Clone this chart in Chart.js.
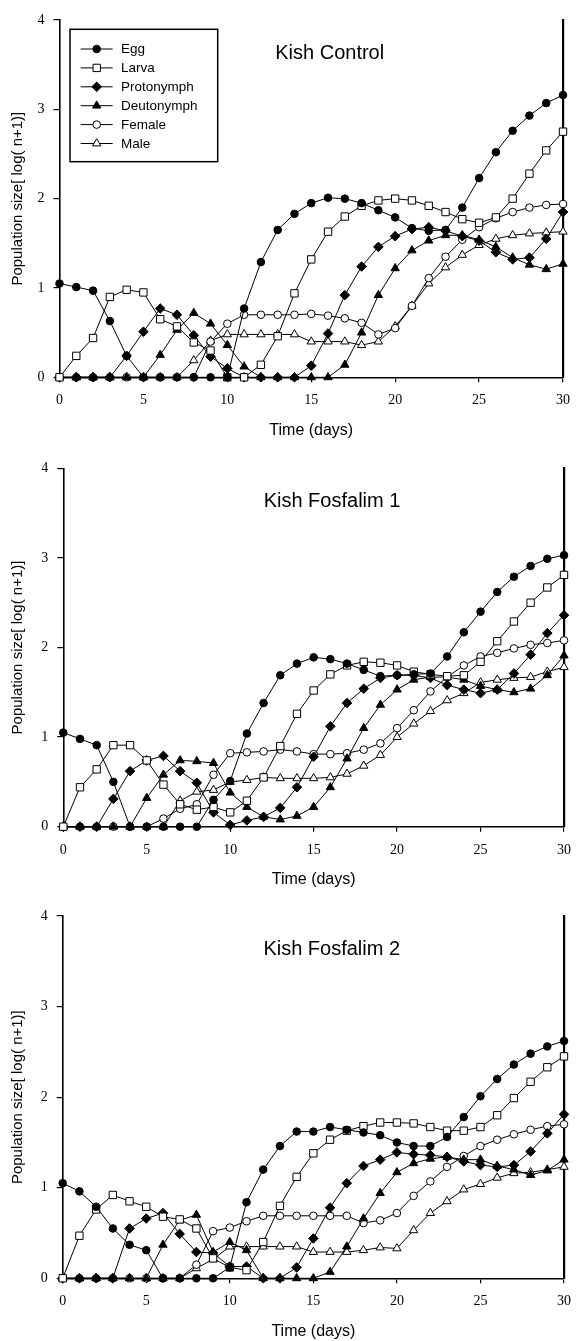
<!DOCTYPE html>
<html><head><meta charset="utf-8">
<script src="https://cdn.jsdelivr.net/npm/chart.js@4.4.1/dist/chart.umd.min.js"></script>
<style>
html,body{margin:0;padding:0;background:#fff;}
body{width:581px;height:1341px;position:relative;overflow:hidden;}
.panel{position:absolute;left:0;width:581px;}
</style></head><body>
<div class="panel" id="p1" style="top:0;height:448px"><canvas id="c1"></canvas></div>
<div class="panel" id="p2" style="top:448px;height:448px"><canvas id="c2"></canvas></div>
<div class="panel" id="p3" style="top:894px;height:447px"><canvas id="c3"></canvas></div>
<script>
// ---------------- DATA ----------------
const days = [0,1,2,3,4,5,6,7,8,9,10,11,12,13,14,15,16,17,18,19,20,21,22,23,24,25,26,27,28,29,30];
const seriesNames = ['Egg','Larva','Protonymph','Deutonymph','Female','Male'];
const panelTitles = ['Kish Control','Kish Fosfalim 1','Kish Fosfalim 2'];
const xTickValues = [0,5,10,15,20,25,30];
const yTickValues = [0,1,2,3,4];
const xAxisTitle = 'Time (days)';
const yAxisTitle = 'Population size[ log( n+1)]';

// Kish Control
const controlEgg        = [1.05,1.01,0.97,0.63,0.24,0,0,0,0,0,0,0.77,1.29,1.65,1.83,1.95,2.01,2.00,1.95,1.87,1.79,1.67,1.64,1.65,1.90,2.23,2.52,2.76,2.93,3.07,3.16];
const controlLarva      = [0,0.24,0.44,0.90,0.98,0.95,0.65,0.57,0.39,0.30,0,0,0.14,0.46,0.94,1.32,1.63,1.80,1.92,1.98,2.00,1.98,1.92,1.85,1.77,1.73,1.79,2.00,2.28,2.54,2.75];
const controlProtonymph = [0,0,0,0,0.24,0.51,0.77,0.70,0.47,0.23,0.10,0,0,0,0,0.13,0.49,0.92,1.24,1.46,1.58,1.66,1.68,1.64,1.58,1.53,1.40,1.32,1.34,1.55,1.85];
const controlDeutonymph = [0,0,0,0,0,0,0.25,0.53,0.72,0.60,0.36,0.12,0,0,0,0,0,0.14,0.50,0.92,1.22,1.42,1.53,1.59,1.59,1.54,1.46,1.34,1.26,1.21,1.27];
const controlFemale     = [0,0,0,0,0,0,0,0,0,0.40,0.60,0.70,0.70,0.70,0.70,0.71,0.69,0.66,0.61,0.48,0.55,0.80,1.11,1.35,1.54,1.68,1.78,1.85,1.90,1.93,1.94];
const controlMale       = [0,0,0,0,0,0,0,0,0.19,0.41,0.48,0.48,0.48,0.48,0.48,0.40,0.40,0.40,0.36,0.40,0.57,0.80,1.05,1.23,1.37,1.48,1.55,1.59,1.61,1.62,1.63];

// Kish Fosfalim 1
const fos1Egg        = [1.05,0.98,0.91,0.50,0,0,0,0,0,0.30,0.51,1.04,1.38,1.69,1.82,1.89,1.87,1.82,1.75,1.68,1.69,1.70,1.71,1.90,2.17,2.40,2.62,2.79,2.91,2.99,3.03];
const fos1Larva      = [0,0.44,0.64,0.91,0.91,0.74,0.47,0.25,0.19,0.22,0.16,0.29,0.55,0.90,1.26,1.52,1.70,1.80,1.84,1.83,1.80,1.73,1.70,1.68,1.69,1.84,2.07,2.29,2.50,2.67,2.81];
const fos1Protonymph = [0,0,0,0.31,0.62,0.74,0.79,0.62,0.49,0.16,0.02,0.07,0.11,0.21,0.44,0.78,1.12,1.38,1.54,1.66,1.69,1.69,1.66,1.58,1.53,1.49,1.53,1.71,1.92,2.16,2.36];
const fos1Deutonymph = [0,0,0,0,0,0.32,0.58,0.74,0.73,0.71,0.38,0.22,0.11,0.08,0.12,0.22,0.44,0.76,1.10,1.36,1.53,1.64,1.67,1.67,1.64,1.57,1.53,1.50,1.54,1.69,1.91];
const fos1Female     = [0,0,0,0,0,0,0.09,0.20,0.25,0.58,0.82,0.83,0.84,0.86,0.84,0.81,0.81,0.82,0.86,0.93,1.10,1.30,1.51,1.67,1.80,1.90,1.94,1.99,2.03,2.05,2.08];
const fos1Male       = [0,0,0,0,0,0,0,0.29,0.39,0.41,0.50,0.52,0.55,0.54,0.54,0.54,0.55,0.59,0.68,0.80,1.00,1.15,1.29,1.41,1.49,1.61,1.64,1.66,1.67,1.73,1.78];

// Kish Fosfalim 2
const fos2Egg        = [1.05,0.96,0.79,0.55,0.37,0.31,0,0,0,0,0.12,0.84,1.20,1.46,1.62,1.62,1.67,1.64,1.61,1.58,1.50,1.46,1.46,1.56,1.78,2.01,2.20,2.36,2.48,2.56,2.62];
const fos2Larva      = [0,0.47,0.76,0.92,0.85,0.79,0.68,0.65,0.55,0.22,0.12,0.09,0.40,0.80,1.12,1.38,1.53,1.63,1.68,1.72,1.72,1.71,1.67,1.63,1.63,1.67,1.80,1.99,2.17,2.33,2.45];
const fos2Protonymph = [0,0,0,0,0.55,0.66,0.72,0.49,0.29,0.28,0.13,0.13,0,0,0.12,0.44,0.78,1.05,1.24,1.31,1.39,1.37,1.36,1.34,1.29,1.25,1.23,1.25,1.40,1.60,1.81];
const fos2Deutonymph = [0,0,0,0,0,0,0.37,0.64,0.70,0.29,0.40,0.31,0,0,0,0,0.07,0.35,0.66,0.94,1.17,1.27,1.32,1.34,1.31,1.31,1.24,1.20,1.14,1.19,1.31];
const fos2Female     = [0,0,0,0,0,0,0,0,0.15,0.52,0.56,0.63,0.69,0.69,0.69,0.69,0.69,0.69,0.61,0.64,0.72,0.91,1.07,1.23,1.35,1.46,1.53,1.59,1.64,1.68,1.70];
const fos2Male       = [0,0,0,0,0,0,0,0,0.11,0.21,0.35,0.35,0.35,0.35,0.35,0.29,0.29,0.29,0.31,0.34,0.33,0.53,0.72,0.85,0.98,1.04,1.11,1.16,1.17,1.20,1.23];

// ---------------- STYLE / LAYOUT ----------------
const markerStyles = [
  {style:'circle',   r:3.8, fill:true},
  {style:'rect',     r:5.2, fill:false},
  {style:'rectRot',  r:4.8, fill:true},
  {style:'triangle', r:4.8, fill:true},
  {style:'circle',   r:3.8, fill:false},
  {style:'triangle', r:4.8, fill:false}
];
const panels = [
  {canvas:'c1', height:448, top:20,   bottom:377.3, left:59.5, right:563,   series:[controlEgg,controlLarva,controlProtonymph,controlDeutonymph,controlFemale,controlMale], legend:true},
  {canvas:'c2', height:448, top:20.3, bottom:378.7, left:63.3, right:570.7, series:[fos1Egg,fos1Larva,fos1Protonymph,fos1Deutonymph,fos1Female,fos1Male], legend:false},
  {canvas:'c3', height:447, top:22,   bottom:384.3, left:62.7, right:573.3, series:[fos2Egg,fos2Larva,fos2Protonymph,fos2Deutonymph,fos2Female,fos2Male], legend:false}
];
const SANS = "'Liberation Sans', Arial, sans-serif";
const SERIF = "'Liberation Serif', 'Times New Roman', serif";

function drawMarker(ctx, ms, x, y) {
  ctx.save();
  ctx.fillStyle = ms.fill ? '#000' : '#fff';
  ctx.strokeStyle = '#000';
  ctx.lineWidth = 1;
  if (Chart.helpers && Chart.helpers.drawPoint) {
    Chart.helpers.drawPoint(ctx, {pointStyle: ms.style, radius: ms.r, rotation: 0, borderWidth: 1}, x, y);
  } else {
    ctx.beginPath(); ctx.arc(x, y, ms.r, 0, Math.PI*2); ctx.fill(); ctx.stroke();
  }
  ctx.restore();
}

const panelTextPlugin = {
  id: 'panelText',
  afterDatasetsDraw(chart, args, opts) {
    const ctx = chart.ctx;
    const xs = chart.scales.x, ys = chart.scales.y;
    ctx.save();
    ctx.fillStyle = '#000';
    ctx.font = '20px ' + SANS;
    ctx.textAlign = 'center';
    ctx.textBaseline = 'middle';
    ctx.fillText(opts.title, xs.getPixelForValue(16.1), ys.getPixelForValue(3.63));
    if (opts.legend) {
      const ca = chart.chartArea;
      const bx = ca.left + 10.5, by = ca.top + 9.3, bw = 147.7, bh = 132.4;
      ctx.lineWidth = 1.5;
      ctx.strokeStyle = '#000';
      ctx.strokeRect(bx, by, bw, bh);
      ctx.font = '13.5px ' + SANS;
      ctx.textAlign = 'left';
      chart.data.datasets.forEach((ds, i) => {
        const y = by + 19.7 + i * 18.9;
        ctx.beginPath();
        ctx.lineWidth = 1;
        ctx.moveTo(bx + 10.7, y); ctx.lineTo(bx + 42.7, y);
        ctx.stroke();
        drawMarker(ctx, markerStyles[i], bx + 26.7, y);
        ctx.fillStyle = '#000';
        ctx.fillText(ds.label, bx + 51, y + 0.5);
      });
    }
    ctx.restore();
  }
};

panels.forEach((p, pi) => {
  const xh = p.height - p.bottom;
  const datasets = seriesNames.map((name, i) => ({
    label: name,
    data: days.map((d, j) => ({x: d, y: p.series[i][j]})),
    borderColor: '#000',
    borderWidth: 1,
    pointStyle: markerStyles[i].style,
    pointRadius: markerStyles[i].r,
    pointHoverRadius: markerStyles[i].r,
    pointBackgroundColor: markerStyles[i].fill ? '#000' : '#fff',
    pointBorderColor: '#000',
    pointBorderWidth: 1,
    tension: 0,
    fill: false,
    clip: false
  }));
  new Chart(document.getElementById(p.canvas), {
    type: 'line',
    data: {datasets},
    plugins: [panelTextPlugin],
    options: {
      responsive: true,
      maintainAspectRatio: false,
      animation: false,
      events: [],
      layout: {padding: {top: p.top, left: 0, right: 581 - p.right, bottom: 0}},
      plugins: {
        legend: {display: false},
        tooltip: {enabled: false},
        panelText: {title: panelTitles[pi], legend: p.legend}
      },
      scales: {
        x: {
          type: 'linear',
          min: xTickValues[0], max: xTickValues[xTickValues.length - 1],
          afterBuildTicks: (s) => { s.ticks = xTickValues.map(v => ({value: v})); },
          afterFit: (s) => { s.height = xh; },
          grid: {display: true, drawOnChartArea: false, drawTicks: true, tickLength: 5, color: '#000', lineWidth: 1.2},
          border: {display: true, color: '#000', width: 1.6},
          ticks: {color: '#000', font: {family: SERIF, size: 14}, padding: 10, maxRotation: 0, autoSkip: false},
          title: {display: true, text: xAxisTitle, color: '#000', font: {family: SANS, size: 16}, padding: {top: 0, bottom: xh - 53 - 9.6}}
        },
        y: {
          type: 'linear',
          min: yTickValues[0], max: yTickValues[yTickValues.length - 1],
          afterBuildTicks: (s) => { s.ticks = yTickValues.map(v => ({value: v})); },
          afterFit: (s) => { s.width = p.left; },
          grid: {display: true, drawOnChartArea: false, drawTicks: true, tickLength: 6, color: '#000', lineWidth: 1.2},
          border: {display: true, color: '#000', width: 1.6},
          ticks: {color: '#000', font: {family: SERIF, size: 14}, padding: 9},
          title: {display: true, text: yAxisTitle, color: '#000', font: {family: SANS, size: 15}, padding: {top: 9, bottom: 0}}
        },
        y2: {
          type: 'linear', position: 'right',
          min: yTickValues[0], max: yTickValues[yTickValues.length - 1],
          afterFit: (s) => { s.width = 0; },
          grid: {display: false},
          border: {display: true, color: '#000', width: 2.2},
          ticks: {display: false}
        }
      }
    }
  });
});
</script>
</body></html>
